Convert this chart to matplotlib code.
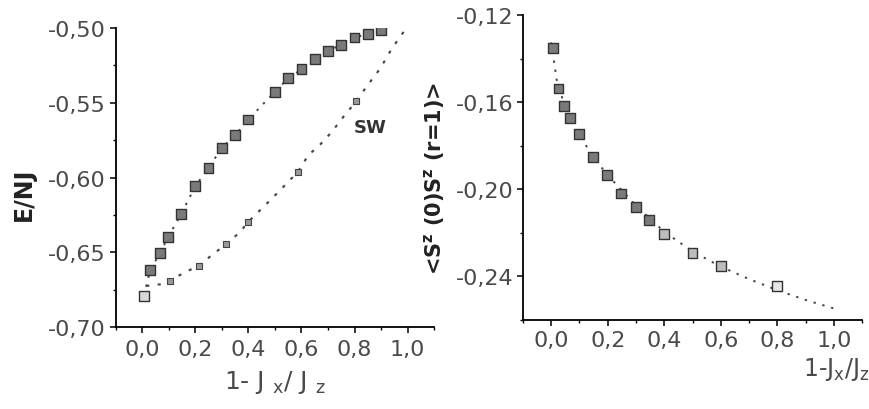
import matplotlib
matplotlib.use("Agg")
import matplotlib.pyplot as plt
from matplotlib.ticker import MultipleLocator

# ---------------- data ----------------
# left panel: ground-state energy
left_x = [0.006, 0.03, 0.067, 0.097, 0.147, 0.20, 0.25, 0.30, 0.35, 0.40,
          0.50, 0.55, 0.60, 0.65, 0.70, 0.75, 0.80, 0.85, 0.90]
left_y = [-0.679, -0.662, -0.6505, -0.640, -0.6243, -0.6057, -0.5936, -0.580,
          -0.5717, -0.5611, -0.5426, -0.5336, -0.5276, -0.5208, -0.5152,
          -0.5112, -0.5063, -0.5038, -0.5016]
left_face = ['#d8d8d8'] + ['#7a7a7a'] * 18

# spin-wave curve
sw_x = [0.015, 0.069, 0.103, 0.16, 0.213, 0.267, 0.317, 0.368, 0.40, 0.456,
        0.50, 0.544, 0.586, 0.626, 0.67, 0.714, 0.758, 0.806, 0.846, 0.897,
        0.934, 0.972, 1.0]
sw_y = [-0.6725, -0.6714, -0.669, -0.6635, -0.659, -0.6512, -0.6445, -0.6366,
        -0.6295, -0.6198, -0.612, -0.604, -0.5963, -0.585, -0.578, -0.5695,
        -0.5594, -0.549, -0.539, -0.527, -0.5157, -0.5056, -0.499]
sw_mark_x = [0.103, 0.213, 0.317, 0.40, 0.586, 0.806]
sw_mark_y = [-0.669, -0.659, -0.6445, -0.6295, -0.5963, -0.549]

# right panel: nearest-neighbour correlation
right_x = [0.007, 0.026, 0.045, 0.0675, 0.098, 0.147, 0.198, 0.248, 0.299,
           0.347, 0.40, 0.50, 0.60, 0.80]
right_y = [-0.1353, -0.1537, -0.1616, -0.1673, -0.1746, -0.185, -0.1933,
           -0.2019, -0.208, -0.214, -0.2206, -0.2293, -0.2351, -0.2443]
right_face = ['#7a7a7a'] * 10 + ['#bdbdbd'] * 3 + ['#e6e6e6']

fit_x = [0.0, 0.02, 0.05, 0.1, 0.15, 0.2, 0.3, 0.4, 0.5, 0.6, 0.7, 0.8, 0.9, 1.0]
fit_y = [-0.1326, -0.150, -0.1625, -0.175, -0.1855, -0.1935, -0.2075, -0.2195,
         -0.2285, -0.2355, -0.2412, -0.2463, -0.2508, -0.2547]

x_ticks = [0.0, 0.2, 0.4, 0.6, 0.8, 1.0]
x_ticklabels = ['0,0', '0,2', '0,4', '0,6', '0,8', '1,0']
left_yticks = [-0.70, -0.65, -0.60, -0.55, -0.50]
left_yticklabels = ['-0,70', '-0,65', '-0,60', '-0,55', '-0,50']
right_yticks = [-0.24, -0.20, -0.16, -0.12]
right_yticklabels = ['-0,24', '-0,20', '-0,16', '-0,12']

# ---------------- figure ----------------
plt.rcParams['font.family'] = ['DejaVu Sans']
fig = plt.figure(figsize=(8.7, 4.1), dpi=100)
tick_col = '#4a4a4a'
dot_ls = (0, (1.2, 3.5))


def style(ax):
    for s in ('top', 'right'):
        ax.spines[s].set_visible(False)
    for s in ('left', 'bottom'):
        ax.spines[s].set_linewidth(1.3)
    ax.tick_params(which='major', direction='out', length=4, width=1.1,
                   labelsize=16, labelcolor=tick_col, pad=3)
    ax.tick_params(which='minor', direction='out', length=2.5, width=1.0)
    ax.xaxis.set_minor_locator(MultipleLocator(0.1))


# left panel
axL = fig.add_axes([0.133, 0.2, 0.366, 0.729])
axL.plot(left_x, left_y, ls=dot_ls, color='#444444', lw=1.4, zorder=2)
axL.scatter(left_x, left_y, marker='s', s=50, c=left_face,
            edgecolors='#333333', linewidths=1.0, zorder=3)
axL.plot(sw_x, sw_y, ls=(0, (1.5, 4.0)), color='#444444', lw=1.5, zorder=2)
axL.scatter(sw_mark_x, sw_mark_y, marker='s', s=14, c='#9a9a9a',
            edgecolors='#444444', linewidths=0.8, zorder=3)
axL.text(0.86, -0.566, 'SW', fontsize=13, fontweight='bold', color='#333333',
         ha='center', va='center')
axL.set_xlim(-0.1, 1.1)
axL.set_ylim(-0.70, -0.50)
axL.set_xticks(x_ticks)
axL.set_xticklabels(x_ticklabels)
axL.set_yticks(left_yticks)
axL.set_yticklabels(left_yticklabels)
axL.yaxis.set_minor_locator(MultipleLocator(0.025))
style(axL)
axL.tick_params(axis='x', which='major', pad=5)
axL.set_xlabel('1- J $_{\\mathrm{x}}$/ J $_{\\mathrm{z}}$', fontsize=18,
               color=tick_col, labelpad=6)
fig.text(0.027, 0.525, 'E/NJ', rotation=90, fontsize=17, fontweight='bold',
         color='#222222', ha='center', va='center')

# right panel
axR = fig.add_axes([0.601, 0.217, 0.390, 0.744])
axR.plot(fit_x, fit_y, ls=dot_ls, color='#444444', lw=1.4, zorder=2)
axR.scatter(right_x, right_y, marker='s', s=50, c=right_face,
            edgecolors='#333333', linewidths=1.0, zorder=3)
axR.set_xlim(-0.1, 1.1)
axR.set_ylim(-0.26, -0.12)
axR.set_xticks(x_ticks)
axR.set_xticklabels(x_ticklabels)
axR.set_yticks(right_yticks)
axR.set_yticklabels(right_yticklabels)
axR.yaxis.set_minor_locator(MultipleLocator(0.02))
style(axR)
axR.tick_params(axis='x', which='major', pad=3)
fig.text(0.999, 0.098, '1-J$_{\\mathrm{x}}$/J$_{\\mathrm{z}}$', fontsize=17,
         color=tick_col, ha='right', va='center')
fig.text(0.499, 0.565, '<S$^{\\mathbf{z}}$ (0)S$^{\\mathbf{z}}$ (r=1)>',
         rotation=90, fontsize=15, fontweight='bold', color='#222222',
         ha='center', va='center')

fig.savefig('out.png', dpi=100)
